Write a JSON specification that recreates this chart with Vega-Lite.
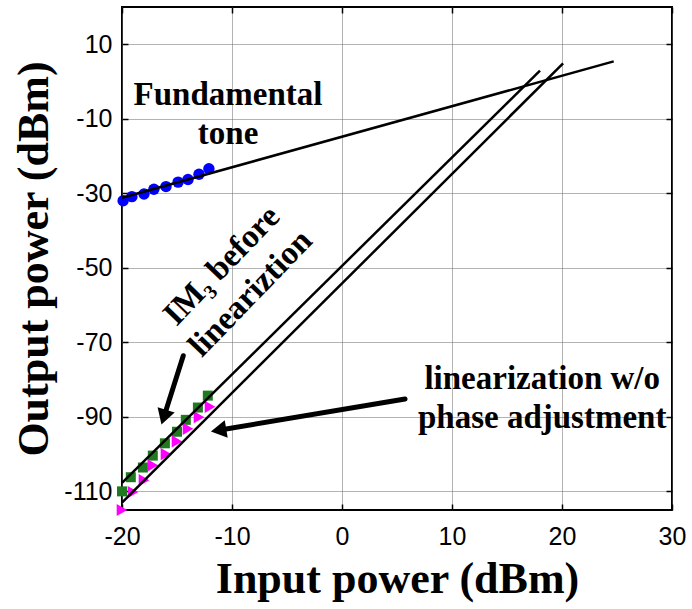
{
  "$schema": "https://vega.github.io/schema/vega-lite/v6.json",
  "width": 550,
  "height": 503,
  "autosize": {"type": "none"},
  "padding": {"left": 122, "top": 7, "right": 20, "bottom": 99},
  "background": "white",
  "config": {
    "view": {"stroke": "black", "strokeWidth": 2},
    "axis": {
      "domain": false,
      "grid": true,
      "gridColor": "#666666",
      "gridDash": [1, 1],
      "gridWidth": 1,
      "ticks": true,
      "tickColor": "black",
      "tickSize": -6,
      "tickWidth": 1.5,
      "labelFlush": false,
      "labelFont": "Liberation Sans",
      "labelFontSize": 25,
      "labelColor": "black",
      "titleFont": "Liberation Serif",
      "titleFontWeight": "bold",
      "titleFontSize": 44,
      "titleColor": "black"
    }
  },
  "datasets": {
    "fund": [
      {"pin": -19.9, "pout": -32.0},
      {"pin": -19.1, "pout": -30.9},
      {"pin": -18.0, "pout": -30.2},
      {"pin": -17.1, "pout": -28.9},
      {"pin": -16.0, "pout": -28.2},
      {"pin": -14.9, "pout": -27.0},
      {"pin": -14.0, "pout": -26.3},
      {"pin": -13.0, "pout": -24.9},
      {"pin": -12.1, "pout": -23.4}
    ],
    "im3": [
      {"pin": -20.0, "pout": -110.0},
      {"pin": -19.2, "pout": -106.2},
      {"pin": -18.1, "pout": -103.6},
      {"pin": -17.2, "pout": -100.4},
      {"pin": -16.1, "pout": -97.1},
      {"pin": -15.0, "pout": -94.0},
      {"pin": -14.2, "pout": -90.8},
      {"pin": -13.1, "pout": -87.5},
      {"pin": -12.2, "pout": -84.3}
    ],
    "lin": [
      {"pin": -20.0, "pout": -115.0},
      {"pin": -19.0, "pout": -110.2},
      {"pin": -18.0, "pout": -107.0},
      {"pin": -17.2, "pout": -103.0},
      {"pin": -16.0, "pout": -100.0},
      {"pin": -15.0, "pout": -96.6},
      {"pin": -14.0, "pout": -93.2},
      {"pin": -13.0, "pout": -90.1},
      {"pin": -12.0, "pout": -87.3}
    ],
    "fits": [
      {"series": "fundamental", "pin": -20.0, "pout": -31.2},
      {"series": "fundamental", "pin": 24.7, "pout": 5.4},
      {"series": "im3", "pin": -20.0, "pout": -107.7},
      {"series": "im3", "pin": 18.0, "pout": 2.9},
      {"series": "lin", "pin": -20.0, "pout": -113.0},
      {"series": "lin", "pin": 20.1, "pout": 4.9}
    ],
    "arrows": [
      {"id": "a1", "x1": -14.43, "y1": -73.6, "x2": -16.2, "y2": -90.1},
      {"id": "a2", "x1": 5.73, "y1": -85.2, "x2": -11.22, "y2": -93.6}
    ],
    "labels": [
      {"id": "fund", "pin": -10.36, "pout": -6.2, "text": ["Fundamental", "tone"]},
      {"id": "im3", "pin": -10.93, "pout": -49.4, "text": ["IM₃ before", "lineariztion"]},
      {"id": "lin", "pin": 18.2, "pout": -82.4, "text": ["linearization w/o", "phase adjustment"]}
    ]
  },
  "resolve": {"axis": {"x": "independent", "y": "independent"}},
  "layer": [
    {
      "encoding": {
        "x": {
          "field": "pin", "type": "quantitative",
          "scale": {"domain": [-20, 30], "nice": false, "zero": false},
          "axis": {"title": "Input power (dBm)", "values": [-20, -10, 0, 10, 20, 30], "labelExpr": "datum.value + ''", "labelPadding": 20, "titlePadding": 8}
        },
        "y": {
          "field": "pout", "type": "quantitative",
          "scale": {"domain": [-115, 20], "nice": false, "zero": false},
          "axis": {"title": "Output power (dBm)", "values": [-110, -90, -70, -50, -30, -10, 10], "labelExpr": "datum.value + ''", "labelPadding": 16, "titlePadding": 7}
        }
      },
      "layer": [
        {
          "data": {"name": "fund"},
          "mark": {"type": "point", "shape": "circle", "filled": true, "color": "#0000ff", "opacity": 1, "size": 130, "clip": false}
        },
        {
          "data": {"name": "im3"},
          "mark": {"type": "point", "shape": "square", "filled": true, "color": "#1f7a1f", "opacity": 1, "size": 100, "clip": false}
        },
        {
          "data": {"name": "lin"},
          "mark": {"type": "point", "shape": "triangle-right", "filled": true, "color": "#ff00ff", "opacity": 1, "size": 150, "clip": false}
        },
        {
          "data": {"name": "fits"},
          "mark": {"type": "line", "color": "black", "strokeWidth": 2.5},
          "encoding": {"detail": {"field": "series", "type": "nominal"}}
        },
        {
          "data": {"name": "arrows"},
          "mark": {"type": "rule", "color": "black", "strokeWidth": 5, "strokeCap": "round"},
          "encoding": {
            "x": {"field": "x1", "type": "quantitative"},
            "y": {"field": "y1", "type": "quantitative"},
            "x2": {"field": "x2"},
            "y2": {"field": "y2"}
          }
        },
        {
          "data": {"name": "arrows"},
          "transform": [{"filter": "datum.id === 'a1'"}],
          "mark": {"type": "point", "shape": "triangle-up", "filled": true, "color": "black", "opacity": 1, "size": 320, "angle": 197.5},
          "encoding": {
            "x": {"field": "x2", "type": "quantitative"},
            "y": {"field": "y2", "type": "quantitative"}
          }
        },
        {
          "data": {"name": "arrows"},
          "transform": [{"filter": "datum.id === 'a2'"}],
          "mark": {"type": "point", "shape": "triangle-up", "filled": true, "color": "black", "opacity": 1, "size": 320, "angle": 260.5},
          "encoding": {
            "x": {"field": "x2", "type": "quantitative"},
            "y": {"field": "y2", "type": "quantitative"}
          }
        },
        {
          "data": {"name": "labels"},
          "transform": [{"filter": "datum.id !== 'im3'"}],
          "mark": {"type": "text", "font": "Liberation Serif", "fontWeight": "bold", "fontSize": 33, "align": "center", "baseline": "alphabetic", "lineHeight": 39, "color": "black"},
          "encoding": {"text": {"field": "text"}}
        },
        {
          "data": {"name": "labels"},
          "transform": [{"filter": "datum.id === 'im3'"}],
          "mark": {"type": "text", "font": "Liberation Serif", "fontWeight": "bold", "fontSize": 33, "align": "center", "baseline": "middle", "lineHeight": 40, "angle": 314, "color": "black"},
          "encoding": {"text": {"field": "text"}}
        }
      ]
    },
    {
      "data": {"name": "fund"},
      "mark": {"type": "point", "opacity": 0},
      "encoding": {
        "x": {
          "field": "pin", "type": "quantitative",
          "scale": {"domain": [-20, 30], "nice": false, "zero": false},
          "axis": {"orient": "top", "values": [-20, -10, 0, 10, 20, 30], "labels": false, "title": null, "grid": false}
        },
        "y": {
          "field": "pout", "type": "quantitative",
          "scale": {"domain": [-115, 20], "nice": false, "zero": false},
          "axis": {"orient": "right", "values": [-110, -90, -70, -50, -30, -10, 10], "labels": false, "title": null, "grid": false}
        }
      }
    }
  ]
}
